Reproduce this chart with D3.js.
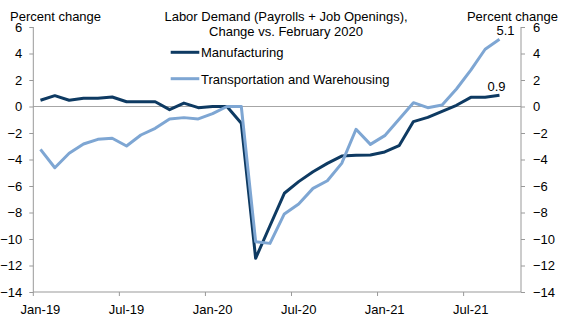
<!DOCTYPE html>
<html>
<head>
<meta charset="utf-8">
<script src="https://cdn.jsdelivr.net/npm/d3@7"></script>
<style>
  html, body { margin: 0; padding: 0; background: #fff; }
  svg { display: block; font-family: Arial, "Liberation Sans", sans-serif; }
  text { fill: #000; }
</style>
</head>
<body>
<svg id="chart" width="567" height="327"></svg>
<script>
const months = ["Jan-19","Feb-19","Mar-19","Apr-19","May-19","Jun-19","Jul-19","Aug-19","Sep-19","Oct-19","Nov-19","Dec-19",
  "Jan-20","Feb-20","Mar-20","Apr-20","May-20","Jun-20","Jul-20","Aug-20","Sep-20","Oct-20","Nov-20","Dec-20",
  "Jan-21","Feb-21","Mar-21","Apr-21","May-21","Jun-21","Jul-21","Aug-21","Sep-21","Oct-21"];
const tickLabels = ["Jan-19","Jul-19","Jan-20","Jul-20","Jan-21","Jul-21"];
const yTicks = [-14,-12,-10,-8,-6,-4,-2,0,2,4,6];
const manufacturing = [0.47,0.82,0.47,0.62,0.62,0.72,0.36,0.36,0.36,-0.24,0.26,-0.09,
  0.0,0.0,-1.27,-11.46,-9.0,-6.55,-5.67,-4.92,-4.29,-3.74,-3.68,-3.66,
  -3.43,-2.96,-1.14,-0.82,-0.36,0.09,0.69,0.69,0.85];
const transport = [-3.23,-4.62,-3.53,-2.83,-2.48,-2.4,-2.98,-2.15,-1.65,-0.94,-0.84,-0.94,
  -0.54,0.0,0.0,-10.2,-10.33,-8.11,-7.36,-6.18,-5.6,-4.29,-1.72,-2.86,
  -2.2,-0.97,0.29,-0.09,0.11,1.32,2.75,4.32,5.07];
const seriesNames = ["Manufacturing","Transportation and Warehousing"];
const seriesColors = ["#0e3a62","#7ea6d3"];
const endLabels = ["0.9","5.1"];

const svg = d3.select("#chart");
const L = 33.3, R = 521, T = 27, B = 292;
const x = d3.scaleBand().domain(months).range([L, R]).paddingInner(0).paddingOuter(0);
const y = d3.scaleLinear().domain([-14, 6]).range([B, T]);
const axisColor = "#999";
const fs = "13px";

// zero line
svg.append("line").attr("x1", L).attr("x2", R).attr("y1", y(0)).attr("y2", y(0))
  .attr("stroke", "#a6a6a6").attr("stroke-width", 1);

// left axis
const gl = svg.append("g").attr("transform", `translate(${L},0)`)
  .call(d3.axisLeft(y).tickValues(yTicks).tickSize(4).tickPadding(7).tickFormat(d3.format("d")));
// right axis
const gr = svg.append("g").attr("transform", `translate(${R},0)`)
  .call(d3.axisRight(y).tickValues(yTicks).tickSize(4).tickPadding(8).tickFormat(d3.format("d")));
[gl, gr].forEach(g => {
  g.select(".domain").attr("stroke", axisColor).attr("d", null);
  g.selectAll(".tick line").attr("stroke", axisColor);
  g.selectAll("text").attr("font-size", fs).attr("font-family", "Arial, 'Liberation Sans', sans-serif").style("fill", "#000");
});
gl.select(".domain").remove(); gr.select(".domain").remove();
svg.append("line").attr("x1", L).attr("x2", L).attr("y1", T).attr("y2", B).attr("stroke", axisColor);
svg.append("line").attr("x1", R).attr("x2", R).attr("y1", T).attr("y2", B).attr("stroke", axisColor);

// bottom axis
const gb = svg.append("g").attr("transform", `translate(0,${B})`)
  .call(d3.axisBottom(x).tickValues(tickLabels).tickSize(0).tickPadding(13));
gb.select(".domain").remove();
gb.selectAll("text").attr("font-size", fs).attr("font-family", "Arial, 'Liberation Sans', sans-serif").style("fill", "#000");
svg.append("line").attr("x1", L).attr("x2", R).attr("y1", B).attr("y2", B).attr("stroke", axisColor);
svg.append("g").selectAll("line").data(tickLabels).join("line")
  .attr("x1", d => x(d)).attr("x2", d => x(d)).attr("y1", B).attr("y2", B + 4)
  .attr("stroke", axisColor);

// lines
const line = d3.line().x((d, i) => x(months[i]) + x.bandwidth() / 2).y(d => y(d));
[manufacturing, transport].forEach((s, k) => {
  svg.append("path").datum(s).attr("d", line).attr("fill", "none")
    .attr("stroke", seriesColors[k]).attr("stroke-width", 3)
    .attr("stroke-linejoin", "round");
});

// end labels
[manufacturing, transport].forEach((s, k) => {
  const i = s.length - 1;
  svg.append("text").attr("x", x(months[i]) + x.bandwidth() / 2 + (k === 0 ? -3 : 6))
    .attr("y", y(s[i]) - 4).attr("text-anchor", "middle").attr("font-size", fs)
    .text(endLabels[k]);
});

// legend
seriesNames.forEach((n, k) => {
  const ly = 52.3 + k * 26.4;
  svg.append("line").attr("x1", 170.7).attr("x2", 199.3).attr("y1", ly).attr("y2", ly)
    .attr("stroke", seriesColors[k]).attr("stroke-width", 3);
  svg.append("text").attr("x", 201).attr("y", ly + 4.8).attr("font-size", fs).text(n);
});

// titles
svg.append("text").attr("x", 286).attr("y", 21).attr("text-anchor", "middle").attr("font-size", fs)
  .text("Labor Demand (Payrolls + Job Openings),");
svg.append("text").attr("x", 286).attr("y", 36).attr("text-anchor", "middle").attr("font-size", fs)
  .text("Change vs. February 2020");
svg.append("text").attr("x", 10).attr("y", 21).attr("font-size", fs).text("Percent change");
svg.append("text").attr("x", 558).attr("y", 21).attr("text-anchor", "end").attr("font-size", fs).text("Percent change");
</script>
</body>
</html>
